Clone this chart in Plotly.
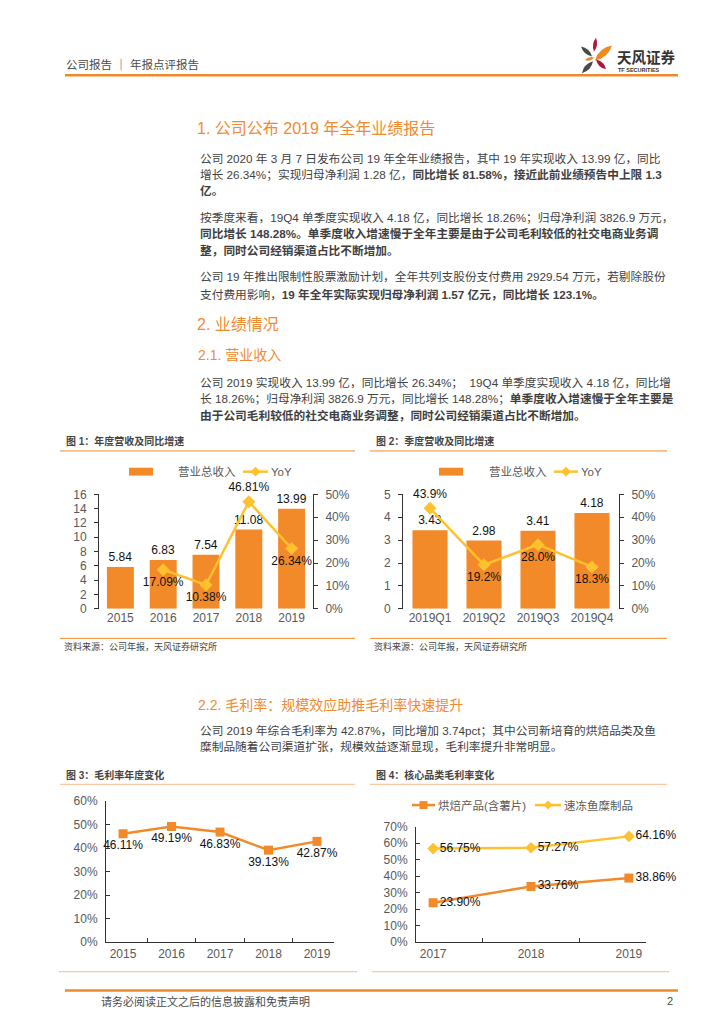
import plotly.graph_objects as go

W, H = 724, 1024
def px(x): return x / W
def py(y): return 1 - y / H

ORANGE = "#F28A2A"
YELLOW = "#FFC12E"
PEACH = "#F9C8A0"
TEXT = "#3F3F3F"
GRAY = "#595959"
LINE = "#333333"
NUM = "Liberation Sans, Arial, Noto Sans CJK SC"
CJK = "Liberation Sans, Arial, Noto Sans CJK SC"

# ---------------- data ----------------
years = ["2015", "2016", "2017", "2018", "2019"]
revenue = [5.84, 6.83, 7.54, 11.08, 13.99]
yoy_years = ["2016", "2017", "2018", "2019"]
revenue_yoy = [17.09, 10.38, 46.81, 26.34]

quarters = ["2019Q1", "2019Q2", "2019Q3", "2019Q4"]
q_revenue = [3.43, 2.98, 3.41, 4.18]
q_yoy = [43.9, 19.2, 28.0, 18.3]

gross_margin = [46.11, 49.19, 46.83, 39.13, 42.87]

cat_years = ["2017", "2018", "2019"]
bakery_gm = [23.90, 33.76, 38.86]
surimi_gm = [56.75, 57.27, 64.16]

legend_bar = "营业总收入"
legend_yoy = "YoY"
legend_bakery = "烘焙产品(含薯片)"
legend_surimi = "速冻鱼糜制品"

fig = go.Figure()

lab_font = dict(family=NUM, size=12, color="#111111")

# Chart 1
fig.add_trace(go.Bar(x=years, y=revenue, width=0.63, marker=dict(color=ORANGE, line=dict(width=0)),
                     text=[f"{v:.2f}" for v in revenue], textposition="outside", textfont=lab_font,
                     constraintext="none", cliponaxis=False, xaxis="x", yaxis="y", showlegend=False,
                     name=legend_bar))
fig.add_trace(go.Scatter(x=yoy_years, y=[v / 100 for v in revenue_yoy], mode="lines+markers+text",
                         line=dict(color=YELLOW, width=2.5), marker=dict(symbol="diamond", size=10, color=YELLOW),
                         text=[f"{v:.2f}%" for v in revenue_yoy],
                         textposition=["bottom center", "bottom center", "top center", "bottom center"],
                         textfont=lab_font, cliponaxis=False, xaxis="x", yaxis="y2", showlegend=False,
                         name=legend_yoy))
# Chart 2
fig.add_trace(go.Bar(x=quarters, y=q_revenue, width=0.65, marker=dict(color=ORANGE, line=dict(width=0)),
                     text=[f"{v:.2f}" for v in q_revenue], textposition="outside", textfont=lab_font,
                     constraintext="none", cliponaxis=False, xaxis="x2", yaxis="y3", showlegend=False,
                     name=legend_bar))
fig.add_trace(go.Scatter(x=quarters, y=[v / 100 for v in q_yoy], mode="lines+markers+text",
                         line=dict(color=YELLOW, width=2.5), marker=dict(symbol="diamond", size=10, color=YELLOW),
                         text=[f"{v:.1f}%" for v in q_yoy],
                         textposition=["top center", "bottom center", "bottom center", "bottom center"],
                         textfont=lab_font, cliponaxis=False, xaxis="x2", yaxis="y4", showlegend=False,
                         name=legend_yoy))
# Chart 3
fig.add_trace(go.Scatter(x=years, y=[v / 100 for v in gross_margin], mode="lines+markers+text",
                         line=dict(color=ORANGE, width=2.5), marker=dict(symbol="square", size=9, color=ORANGE),
                         text=[f"{v:.2f}%" for v in gross_margin], textposition="bottom center",
                         textfont=lab_font, cliponaxis=False, xaxis="x3", yaxis="y5", showlegend=False))
# Chart 4
fig.add_trace(go.Scatter(x=cat_years, y=[v / 100 for v in bakery_gm], mode="lines+markers+text",
                         line=dict(color=ORANGE, width=2.5), marker=dict(symbol="square", size=9, color=ORANGE),
                         text=[f"{v:.2f}%" for v in bakery_gm], textposition="middle right",
                         textfont=lab_font, cliponaxis=False, xaxis="x4", yaxis="y6", showlegend=False,
                         name=legend_bakery))
fig.add_trace(go.Scatter(x=cat_years, y=[v / 100 for v in surimi_gm], mode="lines+markers+text",
                         line=dict(color=YELLOW, width=2.5), marker=dict(symbol="diamond", size=9, color=YELLOW),
                         text=[f"{v:.2f}%" for v in surimi_gm], textposition="middle right",
                         textfont=lab_font, cliponaxis=False, xaxis="x4", yaxis="y6", showlegend=False,
                         name=legend_surimi))

tick_font = dict(family=NUM, size=12, color=GRAY)

def xax(d0, d1, anchor, line=False):
    return dict(domain=[px(d0), px(d1)], anchor=anchor, type="category", showgrid=False, zeroline=False,
                showline=line, linecolor=LINE, linewidth=1,
                ticks="inside" if line else "", tickson="boundaries" if line else None,
                ticklen=4, tickcolor=LINE, tickfont=tick_font, fixedrange=True, ticklabelstandoff=0)

def yax(top, bottom, anchor, rng, dtick, fmt=None, side="left", overlay=None, ticks="outside"):
    d = dict(anchor=anchor, range=rng, dtick=dtick, showgrid=False, zeroline=False, showline=True,
             linecolor=LINE, linewidth=1, ticks=ticks, ticklen=4, tickcolor=LINE, tickfont=tick_font,
             side=side, fixedrange=True, ticklabelstandoff=5)
    if fmt:
        d["tickformat"] = fmt
    if overlay:
        d["overlaying"] = overlay
    else:
        d["domain"] = [py(bottom), py(top)]
    return d

fig.update_layout(
    width=W, height=H, autosize=False, margin=dict(l=0, r=0, t=0, b=0),
    paper_bgcolor="white", plot_bgcolor="rgba(0,0,0,0)", showlegend=False,
    xaxis=xax(91, 305, "y"),
    yaxis=yax(486, 602, "x", [0, 16], 2),
    yaxis2=yax(486, 602, "x", [0, 0.5], 0.1, ".0%", side="right", overlay="y"),
    xaxis2=xax(395, 611, "y3"),
    yaxis3=yax(486, 602, "x2", [0, 5], 1),
    yaxis4=yax(486, 602, "x2", [0, 0.5], 0.1, ".0%", side="right", overlay="y3"),
    xaxis3=xax(98, 326, "y5", line=True),
    yaxis5=yax(797, 940, "x3", [0, 0.6], 0.1, ".0%", ticks="inside"),
    xaxis4=xax(408, 638, "y6", line=True),
    yaxis6=yax(823, 940, "x4", [0, 0.7], 0.1, ".0%", ticks="inside"),
)

shapes = []
annotations = []

def hline(x0, x1, y, color, width=1):
    shapes.append(dict(type="line", xref="paper", yref="paper", x0=px(x0), x1=px(x1), y0=py(y), y1=py(y),
                       line=dict(color=color, width=width)))

def text(x, y, s, size=11.5, color=TEXT, family=CJK, anchor="left"):
    annotations.append(dict(x=px(x), y=py(y), xref="paper", yref="paper", text=s, showarrow=False,
                            xanchor=anchor, yanchor="middle", font=dict(family=family, size=size, color=color),
                            borderpad=0))

def diamond(cx, cy, r, color):
    p = f"M {px(cx)},{py(cy - r)} L {px(cx + r)},{py(cy)} L {px(cx)},{py(cy + r)} L {px(cx - r)},{py(cy)} Z"
    shapes.append(dict(type="path", xref="paper", yref="paper", path=p, fillcolor=color, line=dict(width=0)))

def rect(x0, y0, x1, y1, color):
    shapes.append(dict(type="rect", xref="paper", yref="paper", x0=px(x0), x1=px(x1), y0=py(y1), y1=py(y0),
                       fillcolor=color, line=dict(width=0)))

def leaf(x0, y0, x1, y1, w, color):
    mx, my = (x0 + x1) / 2, (y0 + y1) / 2
    dx, dy = x1 - x0, y1 - y0
    L = (dx * dx + dy * dy) ** 0.5
    nx, ny = -dy / L * w, dx / L * w
    p = (f"M {px(x0)},{py(y0)} Q {px(mx + nx)},{py(my + ny)} {px(x1)},{py(y1)} "
         f"Q {px(mx - nx)},{py(my - ny)} {px(x0)},{py(y0)} Z")
    shapes.append(dict(type="path", xref="paper", yref="paper", path=p, fillcolor=color, line=dict(width=0)))

# ---------- header ----------
text(57, 50, "公司报告 ｜ 年报点评报告", size=11.5, color="#4a4a4a")
hline(57, 670, 61, "#EE8A2C", 2.5)
CRIMSON = "#B5123A"
DARK = "#4A4A4A"
leaf(588, 23, 586, 37, 4, CRIMSON)
leaf(587, 46, 604, 31, 7, "#F08A1C")
leaf(573, 32, 584, 42, 4.5, DARK)
leaf(577, 46, 586, 43, 3, "#F08A1C")
leaf(588, 45, 598, 55, 4.5, CRIMSON)
leaf(585, 47, 574, 59, 5, DARK)
text(608, 43, "<b>天风证券</b>", size=14.5, color="#333333")
text(609, 55.5, "<b>TF SECURITIES</b>", size=5.5, color="#333333", family=NUM)

# ---------- body text ----------
HC = "#F28A30"
text(188, 115, "1. 公司公布 2019 年全年业绩报告", size=16, color=HC)
body = [
    (145, "公司 2020 年 3 月 7 日发布公司 19 年全年业绩报告，其中 19 年实现收入 13.99 亿，同比"),
    (162, "增长 26.34%；实现归母净利润 1.28 亿，<b>同比增长 81.58%，接近此前业绩预告中上限 1.3</b>"),
    (178, "<b>亿。</b>"),
    (205, "按季度来看，19Q4 单季度实现收入 4.18 亿，同比增长 18.26%；归母净利润 3826.9 万元，"),
    (222, "<b>同比增长 148.28%。单季度收入增速慢于全年主要是由于公司毛利较低的社交电商业务调</b>"),
    (239, "<b>整，同时公司经销渠道占比不断增加。</b>"),
    (265, "公司 19 年推出限制性股票激励计划，全年共列支股份支付费用 2929.54 万元，若剔除股份"),
    (283, "支付费用影响，<b>19 年全年实际实现归母净利润 1.57 亿元，同比增长 123.1%。</b>"),
    (373, "公司 2019 实现收入 13.99 亿，同比增长 26.34%；  19Q4 单季度实现收入 4.18 亿，同比增"),
    (389, "长 18.26%；归母净利润 3826.9 万元，同比增长 148.28%；<b>单季度收入增速慢于全年主要是</b>"),
    (406, "<b>由于公司毛利较低的社交电商业务调整，同时公司经销渠道占比不断增加。</b>"),
    (725, "公司 2019 年综合毛利率为 42.87%，同比增加 3.74pct；其中公司新培育的烘焙品类及鱼"),
    (742, "糜制品随着公司渠道扩张，规模效益逐渐显现，毛利率提升非常明显。"),
]
for y, s in body:
    text(191, y, s, size=11.7, color=TEXT)
text(188, 314, "2. 业绩情况", size=16, color=HC)
text(189, 345, "2.1. 营业收入", size=14, color=HC)
text(189, 700, "2.2. 毛利率：规模效应助推毛利率快速提升", size=14, color=HC)

# ---------- chart frames ----------
TC = "#444444"
text(57, 432, "<b>图 1：年度营收及同比增速</b>", size=10, color=TC)
text(367, 432, "<b>图 2：季度营收及同比增速</b>", size=10, color=TC)
hline(52, 347, 442, ORANGE, 1)
hline(362, 659, 442, ORANGE, 1)
hline(52, 347, 632, ORANGE, 1)
hline(362, 659, 632, ORANGE, 1)
text(55, 640, "资料来源：公司年报，天风证券研究所", size=9, color=TC)
text(365, 640, "资料来源：公司年报，天风证券研究所", size=9, color=TC)

text(57, 771, "<b>图 3：毛利率年度变化</b>", size=10, color=TC)
text(367, 771, "<b>图 4：核心品类毛利率变化</b>", size=10, color=TC)
hline(52, 347, 780, PEACH, 1.2)
hline(362, 659, 780, PEACH, 1.2)
hline(51, 349, 970, "#F9B880", 1.2)
hline(364, 661, 970, "#F9B880", 1.2)

# ---------- legends ----------
LF = 11.5
rect(121, 459, 145, 467, ORANGE)
text(169, 463, legend_bar, size=LF, color=GRAY)
hline(235, 260, 463, YELLOW, 2.5)
diamond(247.5, 463, 5, YELLOW)
text(262, 463, legend_yoy, size=LF, color=GRAY, family=NUM)

rect(431, 459, 455, 467, ORANGE)
text(480, 463, legend_bar, size=LF, color=GRAY)
hline(546, 570, 463, YELLOW, 2.5)
diamond(558, 463, 5, YELLOW)
text(572, 463, legend_yoy, size=LF, color=GRAY, family=NUM)

hline(404, 427, 801, ORANGE, 2.5)
rect(411.5, 797, 419.5, 805, ORANGE)
text(429, 801, legend_bakery, size=LF, color=GRAY)
hline(527, 553, 801, YELLOW, 2.5)
diamond(540, 801, 4.5, YELLOW)
text(555, 801, legend_surimi, size=LF, color=GRAY)

# ---------- footer ----------
hline(57, 670, 989, "#EE8A2C", 2.5)
text(92, 1000, "请务必阅读正文之后的信息披露和免责声明", size=11, color="#4a4a4a")
text(666, 1000, "2", size=11, color="#4a4a4a", family=NUM, anchor="right")

fig.update_layout(shapes=shapes, annotations=annotations)
fig.write_html("out.html")
